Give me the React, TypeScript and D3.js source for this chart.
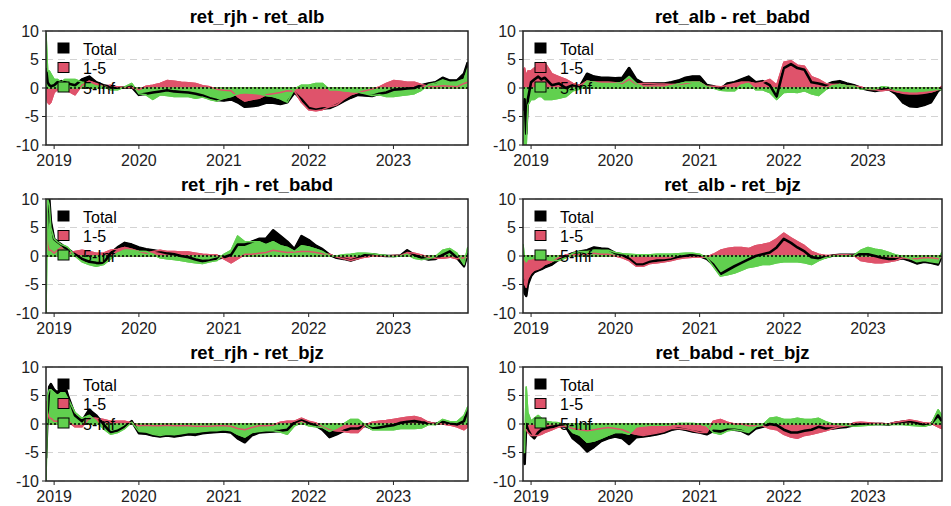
import React from "react";
import * as d3 from "d3";

const dates = [
  "2018-11-27","2018-12-04","2018-12-11","2018-12-18","2019-01-01","2019-01-15","2019-02-01","2019-02-15","2019-03-01",
  "2019-04-01","2019-05-01","2019-06-01","2019-07-01","2019-08-01","2019-09-01","2019-10-01","2019-11-01","2019-12-01",
  "2020-01-01","2020-02-01","2020-03-01","2020-04-01","2020-05-01","2020-06-01","2020-07-01","2020-08-01","2020-09-01","2020-10-01","2020-11-01","2020-12-01",
  "2021-01-01","2021-02-01","2021-03-01","2021-04-01","2021-05-01","2021-06-01","2021-07-01","2021-08-01","2021-09-01","2021-10-01","2021-11-01","2021-12-01",
  "2022-01-01","2022-02-01","2022-03-01","2022-04-01","2022-05-01","2022-06-01","2022-07-01","2022-08-01","2022-09-01","2022-10-01","2022-11-01","2022-12-01",
  "2023-01-01","2023-02-01","2023-03-01","2023-04-01","2023-05-01","2023-06-01","2023-07-01","2023-08-01","2023-09-01","2023-10-01","2023-11-01","2023-11-17",
];

const yearTicks = ["2019", "2020", "2021", "2022", "2023"];
const yTicks = [-10, -5, 0, 5, 10];
const legendLabels = ["Total", "1-5", "5-Inf"];
const titles = [
  "ret_rjh - ret_alb", "ret_alb - ret_babd",
  "ret_rjh - ret_babd", "ret_alb - ret_bjz",
  "ret_rjh - ret_bjz", "ret_babd - ret_bjz",
];

// ret_rjh - ret_alb
const rjhAlbTotal = [3.5,1,0.5,0.3,0.5,1,1.2,1,0.8, 0.5,1.5,2.0,1.0,0.5,0.2,0,0.1,0.2,
  -1.2,-1.0,-0.8,-0.6,-0.4,-0.6,-0.7,-0.8,-1.0,-1.3,-1.8,-2.1,
  -2.2,-2.0,-2.5,-3.3,-3.2,-3.0,-2.6,-2.6,-2.8,-2.5,-0.8,-2.0,
  -3.5,-3.8,-3.6,-3.5,-3.0,-2.3,-1.7,-1.2,-1.3,-1.4,-1.0,-0.8,
  -0.3,-0.2,-0.1,0.0,0.5,0.8,1.0,1.8,1.3,1.3,2.5,4.5];
const rjhAlbShort = [-1,-2.5,-2.8,-2.5,-0.8,-0.3,0.3,0.2,-0.5, -1.2,0.5,1.2,0.8,0.3,0.5,0.2,0.1,0.1,
  -0.3,0.3,0.5,0.8,1.3,1.2,1.0,0.9,0.8,0.4,0.2,-0.2,
  -0.4,-0.5,-1.5,-2.3,-2.0,-1.8,-1.2,-1.0,-0.8,-0.5,-0.6,-2.5,
  -3.8,-4.0,-3.8,-3.3,-3.0,-2.0,-1.2,-0.8,-0.5,-0.2,0.2,0.8,
  1.3,1.2,1.0,1.0,0.6,0.3,0.2,0.4,0.3,0.2,0.8,1.0];
const rjhAlbLong = [9.5,3,3,2.5,1.5,1.5,1.0,1.5,1.5, 1.5,1.0,0.8,0.3,0.3,-0.3,-0.3,0.2,0.8,
  -1.0,-1.2,-2.0,-1.2,-1.3,-1.5,-1.5,-1.5,-1.8,-1.6,-2.0,-2.3,
  -1.8,-1.5,-1.0,-0.8,-0.9,-1.0,-1.3,-1.5,-1.9,-2.5,-0.2,0.5,
  0.5,0.8,0.8,-0.3,-0.3,-0.5,-0.6,-0.7,-1.0,-1.3,-1.2,-1.5,
  -1.5,-1.3,-1.2,-1.0,-0.4,0.6,0.9,1.4,1.0,1.1,1.5,3.5];

// ret_alb - ret_babd
const albBabdTotal = [-4,-2,-8,-2,1,1.5,2,1.5,1.8, 0.5,0.8,0,0.5,0.3,2.5,2,1.8,1.8,
  1.7,1.8,3.5,1.5,0.8,0.8,0.8,0.8,1.0,1.3,1.8,2.0,
  2.0,0.5,0.3,-0.2,0.8,1.0,1.5,2.0,1.0,1.2,0.5,-1.5,
  3.5,4.2,3.5,3.2,1.0,0.8,0.5,1.0,1.2,0.8,0.5,0.0,
  -0.3,-0.5,-0.3,-0.2,-1.0,-2.5,-3.2,-3.3,-3.0,-2.5,-0.5,0];
const albBabdShort = [3,3.5,2,3,3,3.5,3.5,3,4.5, 2.5,2,1.5,0.8,0.5,1.2,1,1.0,1.0,
  0.9,0.8,1.5,0.7,0.8,0.8,0.7,0.7,0.6,0.6,0.8,1.0,
  1.0,0.3,0.3,0.2,0.5,0.8,1,1,0.8,1.0,1.5,0.5,
  4.5,4.8,4.0,3.8,2,1.5,0.8,0.6,0.6,0.4,0.3,0.2,
  -0.2,-0.3,-0.5,-0.3,-0.6,-0.9,-1.0,-1.0,-0.9,-0.7,-0.3,0.3];
const albBabdLong = [-8,-10,-10,-3,-2,-2,-1.5,-1.5,-2, -2,-1.8,-1.5,-0.5,-0.2,1.2,1,0.8,0.8,
  0.8,1.0,2,0.8,0.1,0.1,0.1,0.1,0.4,0.7,1.0,1.0,
  1.0,0.2,0,-0.4,-0.5,-0.5,0.5,0.8,-0.3,-0.3,-0.8,-2,
  -0.8,-0.7,-0.8,-0.5,-1.0,-1.3,-0.3,0.4,0.6,0.4,0.3,-0.2,
  -0.1,-0.2,0.2,0.1,-0.3,-0.5,-0.6,-0.6,-0.5,-0.4,-0.2,-0.3];

// ret_rjh - ret_babd
const rjhBabdTotal = [2,8,10,6,3,2.5,2.0,1.5,1.2, 0.3,-0.5,-1.0,-1.2,-1.3,0.5,1.5,2.3,2.0,
  1.5,1.2,1.0,0.8,0.5,0.3,0,-0.2,-0.6,-0.9,-0.8,-0.5,
  -0.2,0.2,2.0,2.0,2.5,3.0,3.0,4.5,3.5,2.5,1.2,3.5,
  2.8,1.8,1.2,0.2,-0.3,-0.5,-0.8,-0.4,0.2,0.3,0.1,0,
  0,0.1,1.0,0.2,-0.3,-0.6,-0.5,0.2,0.8,-0.3,-1.8,0.5];
const rjhBabdShort = [5,2,1,1,0.5,1.0,1.5,0.8,0.5, 0.8,1.0,0.8,0.5,0.5,1.0,1.2,1.5,1.2,
  0.8,0.5,0.8,1.0,0.8,0.8,0.7,0.7,0.5,0.3,0.2,0.2,
  -0.5,-1.2,-0.5,0.3,0.3,0.5,0.6,1.0,0.8,0.6,0.7,0.8,
  0.8,0.6,0.4,0.3,-0.2,-0.5,-0.8,-0.5,-0.2,0,0,0,
  0.1,0.1,0.6,0.5,0.2,-0.2,-0.4,-0.4,-0.2,-0.5,-0.3,-0.2];
const rjhBabdLong = [-10,10,9,5,3,2.5,2.0,1.8,1.5, 0,-1.0,-1.5,-1.8,-1.5,-0.5,0.5,1.0,1.0,
  0.8,0.8,0.3,-0.3,-0.5,-0.6,-0.8,-1.0,-1.2,-1.3,-1.0,-0.8,
  0.3,1.0,3.5,2.5,2.5,2.5,2.0,2.5,1.8,1.5,0.8,1.8,
  1.6,1.2,0.8,0,0,0.2,0.3,0.5,0.5,0.4,0.2,0.1,
  -0.1,0,0.3,-0.4,-0.6,-0.5,-0.1,1.0,1.3,0.5,-1.5,1.5];

// ret_alb - ret_bjz
const albBjzTotal = [-4,-6.5,-7,-5,-3.5,-2.8,-2.5,-2.3,-2, -1.5,-0.6,0,0.5,0.8,1.0,1.5,1.3,1.2,
  0.5,0.2,-0.5,-1.5,-1.5,-1.0,-0.8,-0.8,-0.6,-0.2,0,0.2,
  0,-0.5,-1.5,-3.2,-2.5,-1.8,-1.2,-0.6,0,0.3,0.6,1.5,
  3.0,2.3,1.5,0.8,-0.2,-0.4,-0.2,0.1,0.2,0.2,0.2,0.3,
  0.3,0,-0.3,-0.5,-0.6,-0.4,-0.8,-1.3,-1.0,-1.2,-1.5,0];
const albBjzShort = [-3,-5,-5.5,-4,-3,-2.5,-2.3,-2,-1.5, -1,-0.3,0.2,0.2,0.2,0.3,0.5,0.3,0.3,
  0,-0.3,-0.8,-1.8,-1.8,-1.3,-1.2,-1.0,-0.8,-0.5,-0.3,-0.2,
  -0.2,-0.2,0.3,1.0,1.3,1.5,1.5,1.3,1.8,2.0,2.3,3.0,
  4.0,3.2,2.5,1.8,0.8,0.3,0.1,0.1,0.2,0.2,0.1,-0.8,
  -1.0,-1.2,-1.2,-1.0,-0.8,-0.3,-0.5,-0.5,-0.3,-0.3,-0.5,-0.2];
const albBjzLong = [2,-0.5,-1,-0.5,-0.5,-0.3,-0.2,-0.3,-0.5, -0.8,-0.8,-0.3,0.5,0.8,0.8,1.0,1.0,1.0,
  0.6,0.4,0.3,0.2,0.2,0.2,0.3,0.3,0.3,0.4,0.5,0.5,
  0.3,-0.3,-1.8,-3.5,-3.3,-3.0,-2.5,-2.0,-1.8,-1.5,-1.5,-1.2,
  -1.0,-1.0,-1.0,-1.2,-1.5,-0.8,-0.3,0,0,0,0.1,1.0,
  1.5,1.2,1.0,0.6,0.2,-0.1,-0.4,-1.0,-0.8,-1.0,-1.2,0.6];

// ret_rjh - ret_bjz
const rjhBjzTotal = [-6,2,6.5,7,6,5.5,6.5,7,5, 1.5,0.5,2.5,1.5,0,-1.5,-1.2,-0.5,0.5,
  -1.6,-1.7,-2.0,-2.2,-2.0,-2.2,-2.0,-1.8,-1.9,-1.6,-1.5,-1.4,
  -1.3,-1.5,-2.5,-3.2,-2.0,-1.5,-1.4,-1.3,-1.2,-1.0,0.3,0.8,
  0.2,-0.3,-1.0,-2.3,-1.8,-1.2,-0.8,-0.8,-0.3,-0.8,-0.6,-0.4,
  -0.2,0.2,0.4,0.5,0.3,0.2,0,0.4,0.1,-0.1,0.5,2.5];
const rjhBjzShort = [4,2,1,1,0.5,0.5,0.8,1,0.5, -0.5,-0.5,1.0,1.0,0.8,0.5,0.5,0.5,0.2,
  -0.3,-0.2,-0.3,-0.3,-0.2,-0.3,-0.3,-0.3,-0.4,-0.4,-0.4,-0.3,
  -0.3,-0.4,-0.8,-1.0,-0.6,-0.3,-0.3,-0.2,0.3,0.5,0.5,1.0,
  0.5,0.2,-0.5,-1.0,-1.2,-1.3,-1.5,-1.5,-0.2,0.3,0.5,0.6,
  0.8,1.0,1.2,1.3,1.0,0.3,0.1,0,-0.2,-0.5,-1.0,-0.5];
const rjhBjzLong = [-10,5,6,6,5.5,5,5.5,5.5,4.5, 2.0,1.0,1.5,0.5,-0.8,-1.8,-1.5,-0.8,0.3,
  -1.3,-1.4,-1.8,-2.0,-1.8,-1.9,-1.7,-1.5,-1.5,-1.3,-1.2,-1.2,
  -1.0,-1.2,-1.8,-2.3,-1.5,-1.3,-1.2,-1.2,-1.4,-1.8,-0.3,0.2,
  -0.3,-0.5,-0.6,-1.3,-0.7,0,0.8,0.8,-0.2,-1.0,-1.0,-1.0,
  -1.0,-0.8,-0.8,-0.8,-0.7,-0.1,-0.1,0.8,0.4,0.4,1.5,3.0];

// ret_babd - ret_bjz
const babdBjzTotal = [-5,-7,0,-1,-2,-2.5,-1.5,-1,-0.8, -0.5,-0.3,-0.5,-2.5,-3.5,-4.8,-4.0,-3.0,-2.5,
  -2.2,-2.5,-3.5,-2.3,-2.2,-2.0,-1.8,-1.5,-1.0,-0.8,-1.0,-1.3,
  -1.5,-1.8,-1.2,-1.3,-1.0,-1.0,-1.2,-1.8,-0.8,-0.5,0,-0.2,
  -1.0,-1.5,-1.5,-1.2,-1.0,-0.5,-0.8,-0.8,-0.6,-0.5,-0.2,0,
  0,0,0,-0.1,0.2,0.4,0.5,0.2,-0.2,0,1.5,0.5];
const babdBjzShort = [0,-1,-1,-1.5,-2,-2,-2,-1.8,-1.5, -1,-0.5,-0.4,-0.8,-1.0,-1.2,-1.0,-0.8,-0.6,
  -0.8,-1.0,-1.5,-1.8,-2.0,-1.8,-1.6,-1.3,-0.8,-0.8,-0.9,-1.2,
  -1.5,-1.5,0.5,0.8,0.3,0,0,-0.3,-0.3,-0.3,-0.8,-1.0,
  -1.8,-2.3,-2.5,-2.0,-1.8,-1.5,-1.2,-0.8,-0.5,-0.3,0.2,0.3,
  0.2,0.1,0.1,0,0.3,0.5,0.7,0.5,0.2,0.1,-0.5,-0.8];
const babdBjzLong = [-5,-5,6.5,2,0.5,1,1.5,1,0.5, 0.3,0.2,-0.2,-1.5,-2.0,-3.2,-3.0,-2.5,-2.0,
  -1.5,-1.5,-1.8,-0.5,-0.3,-0.2,-0.2,-0.2,-0.1,0.1,0.1,0.1,
  0,-0.3,-1.5,-1.8,-1.2,-1.0,-1.2,-1.5,-0.5,-0.2,1.0,1.2,
  0.8,0.8,1.0,0.8,0.8,1.0,0.4,0,-0.1,-0.2,-0.4,-0.3,
  -0.2,-0.1,-0.1,-0.1,-0.1,-0.1,-0.2,-0.3,-0.4,-0.1,2.5,1.5];

const panelSeries = [
  [rjhAlbTotal, rjhAlbShort, rjhAlbLong],
  [albBabdTotal, albBabdShort, albBabdLong],
  [rjhBabdTotal, rjhBabdShort, rjhBabdLong],
  [albBjzTotal, albBjzShort, albBjzLong],
  [rjhBjzTotal, rjhBjzShort, rjhBjzLong],
  [babdBjzTotal, babdBjzShort, babdBjzLong],
];

const COLORS = ["#000000", "#DF536B", "#61D04F"];
const FONT = "'Liberation Sans', Arial, Helvetica, sans-serif";

const parsed = dates.map((d) => d3.timeParse("%Y-%m-%d")(d) as Date);
const domainX: [Date, Date] = [new Date(2018, 10, 27), new Date(2023, 10, 18)];

function Panel({ idx, left, right, top, bottom }: { idx: number; left: number; right: number; top: number; bottom: number }) {
  const x = d3.scaleTime().domain(domainX).range([left, right]);
  const y = d3.scaleLinear().domain([-10, 10]).range([bottom, top]);
  const series = panelSeries[idx];
  const area = d3
    .area<number>()
    .x((_, i) => x(parsed[i]))
    .y0(y(0))
    .y1((v) => y(v));
  const line = d3
    .line<number>()
    .x((_, i) => x(parsed[i]))
    .y((v) => y(v));
  const clipId = `clip${idx}`;
  const cx = (left + right) / 2;
  return (
    <g>
      <defs>
        <clipPath id={clipId}>
          <rect x={left} y={top} width={right - left} height={bottom - top} />
        </clipPath>
      </defs>
      <text x={cx} y={top - 8} textAnchor="middle" fontFamily={FONT} fontWeight="bold" fontSize={18.5} fill="#000">
        {titles[idx]}
      </text>
      {yTicks.map((t) =>
        t === 0 ? null : (
          <line key={t} x1={left} x2={right} y1={y(t)} y2={y(t)} stroke="#d3d3d3" strokeWidth={1} strokeDasharray="7,5" />
        )
      )}
      <g clipPath={`url(#${clipId})`}>
        {series.map((s, k) => (
          <path key={"a" + k} d={area(s) || ""} fill={COLORS[k]} stroke={COLORS[k]} strokeWidth={1.5} strokeLinejoin="round" />
        ))}
        {series.map((s, k) => (
          <path key={"l" + k} d={line(s) || ""} fill="none" stroke={COLORS[k]} strokeWidth={k === 0 ? 2.6 : 1.5} strokeLinejoin="round" />
        ))}
      </g>
      <line x1={left} x2={right} y1={y(0)} y2={y(0)} stroke="#000" strokeWidth={1.6} strokeDasharray="2,2" />
      {legendLabels.map((lab, k) => (
        <g key={lab}>
          <rect x={left + 12} y={top + 12 + k * 19.5} width={11} height={10} fill={COLORS[k]} stroke="#000" strokeWidth={1} />
          <text x={left + 37} y={top + 23.5 + k * 19.5} fontFamily={FONT} fontSize={16} fill="#000">
            {lab}
          </text>
        </g>
      ))}
      <rect x={left} y={top} width={right - left} height={bottom - top} fill="none" stroke="#222" strokeWidth={1.5} />
      {yTicks.map((t) => (
        <g key={"yt" + t}>
          <line x1={left - 4} x2={left} y1={y(t)} y2={y(t)} stroke="#222" strokeWidth={1} />
          <text x={left - 7} y={y(t) + 5.5} textAnchor="end" fontFamily={FONT} fontSize={16} fill="#222">
            {t}
          </text>
        </g>
      ))}
      {yearTicks.map((yr) => {
        const xx = x(new Date(+yr, 0, 1));
        return (
          <g key={yr}>
            <line x1={xx} x2={xx} y1={bottom} y2={bottom + 4} stroke="#222" strokeWidth={1} />
            <text x={xx} y={bottom + 21} textAnchor="middle" fontFamily={FONT} fontSize={16} fill="#222">
              {yr}
            </text>
          </g>
        );
      })}
    </g>
  );
}

export default function App() {
  const cols = [
    [46, 468],
    [523, 942],
  ];
  const rows = [
    [31, 145],
    [199, 313],
    [367, 481],
  ];
  return (
    <svg width={951} height={506} style={{ position: "absolute", left: 0, top: 0, background: "#fff" }}>
      <rect x={0} y={0} width={951} height={506} fill="#fff" />
      {rows.map((r, ri) =>
        cols.map((c, ci) => (
          <Panel key={ri * 2 + ci} idx={ri * 2 + ci} left={c[0]} right={c[1]} top={r[0]} bottom={r[1]} />
        ))
      )}
    </svg>
  );
}
